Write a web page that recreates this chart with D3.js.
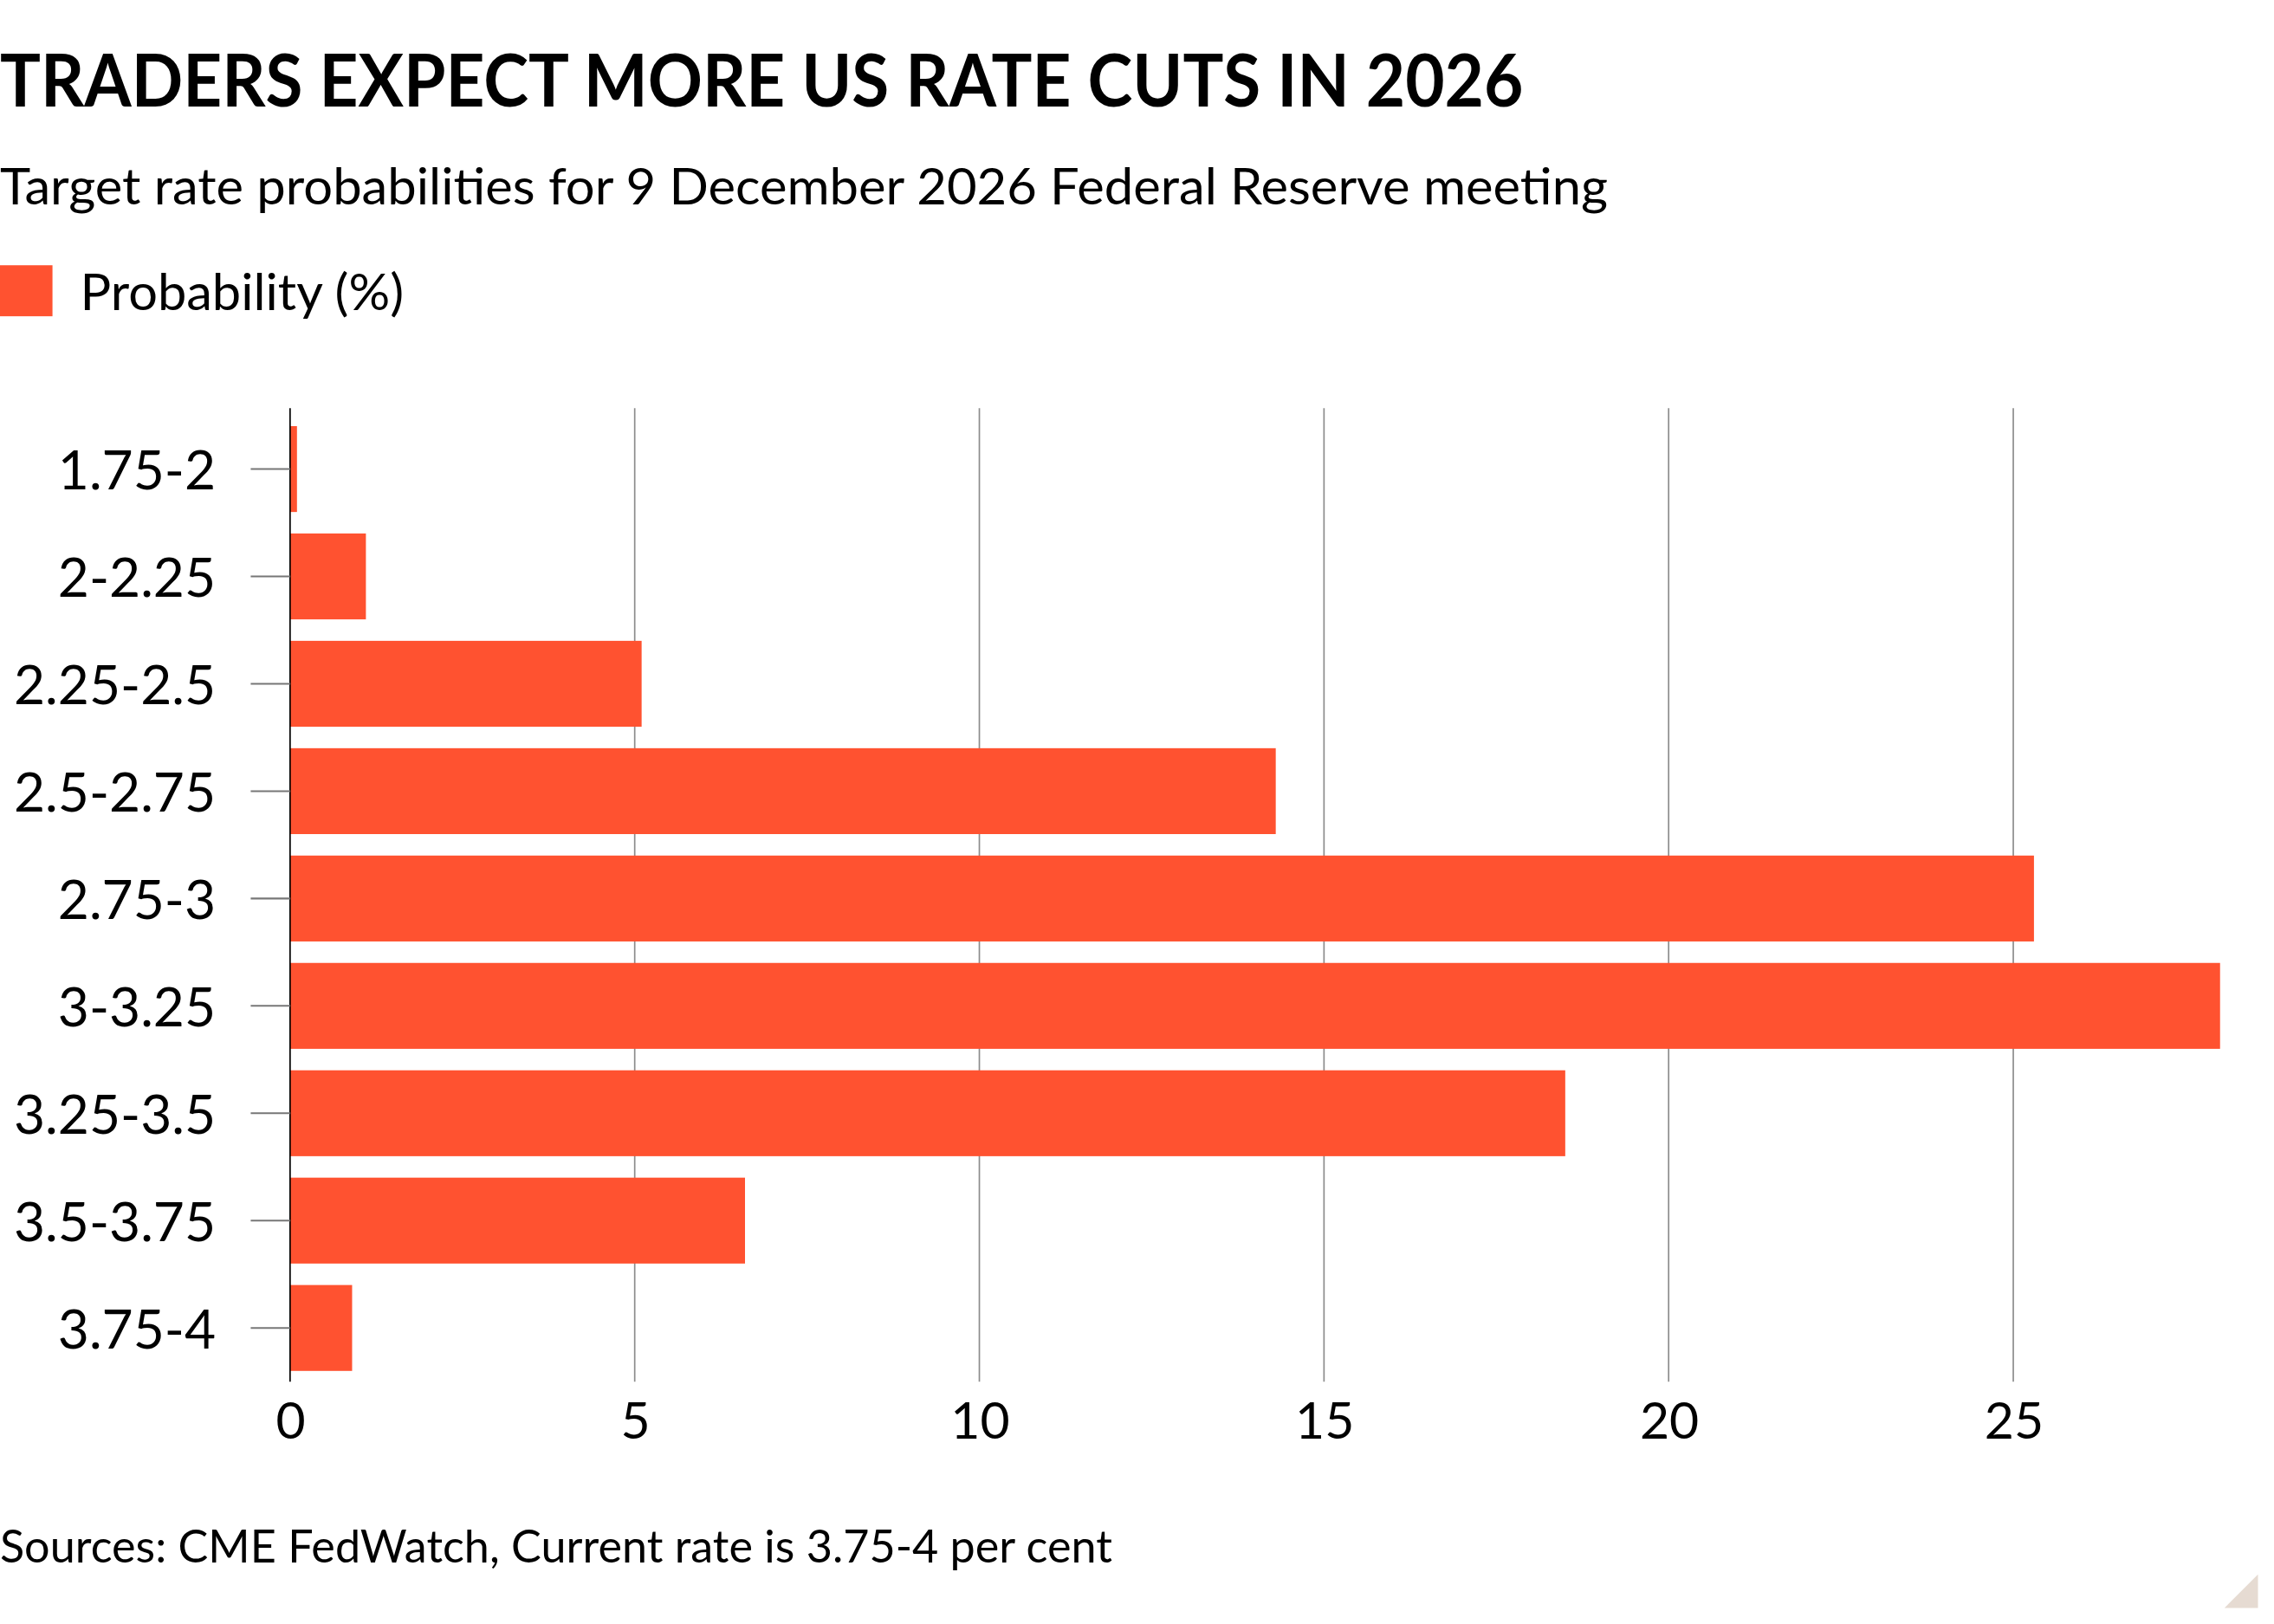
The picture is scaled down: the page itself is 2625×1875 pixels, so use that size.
<!DOCTYPE html>
<html>
<head>
<meta charset="utf-8">
<script src="https://cdn.jsdelivr.net/npm/d3@7"></script>
<style>
  html, body { margin: 0; padding: 0; background: #fff; }
  text { font-family: "Lato", "Open Sans", sans-serif; fill: #000; }
</style>
</head>
<body>
<svg id="chart"></svg>
<script>
// chart values
const rateRanges = ["1.75-2", "2-2.25", "2.25-2.5", "2.5-2.75", "2.75-3", "3-3.25", "3.25-3.5", "3.5-3.75", "3.75-4"];
const probabilities = [0.1, 1.1, 5.1, 14.3, 25.3, 28.0, 18.5, 6.6, 0.9];
const xTicks = [0, 5, 10, 15, 20, 25];

const titleText = "TRADERS EXPECT MORE US RATE CUTS IN 2026";
const subtitleText = "Target rate probabilities for 9 December 2026 Federal Reserve meeting";
const legendText = "Probability (%)";
const sourceText = "Sources: CME FedWatch, Current rate is 3.75-4 per cent";

// drawing is done in a 1560-wide space and scaled to the window
const W = 1560, H = 1560 * 1875 / 2625;
const barColor = "#ff5230";

const svg = d3.select("#chart")
    .attr("width", 2625).attr("height", 1875)
    .attr("viewBox", `0 0 ${W} ${H}`);

const x = d3.scaleLinear().domain([0, d3.max(probabilities)]).range([199, 1523]);
const y = d3.scaleBand().domain(rateRanges).range([285, 948]).paddingInner(0.2).paddingOuter(0.1);

// header
svg.append("text").attr("x", 0).attr("y", 73)
    .attr("font-size", 50).attr("font-weight", "bold")
    .attr("textLength", 1045).attr("lengthAdjust", "spacingAndGlyphs")
    .text(titleText);
svg.append("text").attr("x", 0).attr("y", 140)
    .attr("font-size", 34)
    .attr("textLength", 1103).attr("lengthAdjust", "spacingAndGlyphs")
    .text(subtitleText);

// legend
svg.append("rect").attr("x", 0).attr("y", 182).attr("width", 36).attr("height", 35).attr("fill", barColor);
svg.append("text").attr("x", 55).attr("y", 213)
    .attr("font-size", 34)
    .attr("textLength", 222).attr("lengthAdjust", "spacingAndGlyphs")
    .text(legendText);

// vertical grid lines
svg.append("g").selectAll("line")
    .data(xTicks.filter(d => d > 0))
    .join("line")
    .attr("x1", d => x(d)).attr("x2", d => x(d))
    .attr("y1", 280).attr("y2", 948)
    .attr("stroke", "#8c8c8c").attr("stroke-width", 1);

// bars
svg.append("g").selectAll("rect")
    .data(rateRanges)
    .join("rect")
    .attr("x", x(0))
    .attr("y", d => y(d))
    .attr("height", y.bandwidth())
    .attr("width", (d, i) => x(probabilities[i]) - x(0))
    .attr("fill", barColor);

// x axis labels
const xAxis = svg.append("g")
    .attr("transform", "translate(0,948)")
    .call(d3.axisBottom(x).tickValues(xTicks).tickSize(0).tickPadding(14));
xAxis.select(".domain").remove();
xAxis.selectAll("text").attr("font-size", 35).attr("font-family", "Lato, sans-serif").attr("fill", "#000");

// y axis with ticks and zero line
const yAxis = svg.append("g")
    .attr("transform", `translate(${x(0)},0)`)
    .call(d3.axisLeft(y).tickSize(27).tickPadding(24).tickSizeOuter(0));
yAxis.select(".domain").attr("d", "M0,280V948").attr("stroke", "#000").attr("stroke-width", 1);
yAxis.selectAll(".tick line").attr("stroke", "#777").attr("stroke-width", 1.2);
yAxis.selectAll("text").attr("font-size", 37).attr("font-family", "Lato, sans-serif").attr("fill", "#000").attr("dy", "0.38em");

// source note
svg.append("text").attr("x", 0).attr("y", 1072)
    .attr("font-size", 31)
    .attr("textLength", 763).attr("lengthAdjust", "spacingAndGlyphs")
    .text(sourceText);

// corner mark
svg.append("path")
    .attr("d", `M${W - 11},${H - 34} L${W - 11},${H - 11} L${W - 34},${H - 11} Z`)
    .attr("fill", "#e6dbd2");
</script>
</body>
</html>
